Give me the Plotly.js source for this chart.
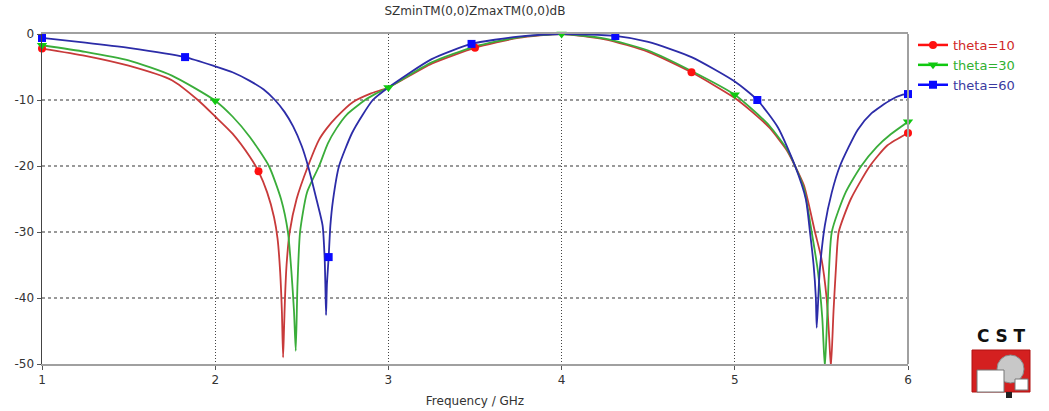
<!DOCTYPE html>
<html>
<head>
<meta charset="utf-8">
<script src="https://cdn.plot.ly/plotly-3.0.1.min.js"></script>
<style>html,body{margin:0;padding:0;background:#fff;}#chart{width:1049px;height:411px;}</style>
</head>
<body>
<div id="chart"></div>
<script>
// ---- data ----
const seriesNames = ["theta=10", "theta=30", "theta=60"];

const redX = [1.0,1.25,1.5,1.75,1.9,2.0,2.1,2.2,2.25,2.3,2.34,2.36,2.375,2.385,2.392,2.397,2.403,2.412,2.43,2.47,2.536,2.6,2.644,2.7,2.796,2.9,3.0,3.25,3.5,3.75,4.0,4.25,4.5,4.75,5.0,5.1,5.2,5.3,5.348,5.4,5.463,5.5,5.53,5.545,5.555,5.57,5.585,5.6,5.67,5.78,5.88,6.0];
const redY = [-2.2,-3.3,-4.8,-7.0,-10.0,-12.5,-15.1,-18.6,-20.8,-24.0,-27.8,-31,-36,-42,-49,-45,-40,-35,-30,-25,-20,-16,-14.3,-12.6,-10.3,-9.0,-8.1,-4.5,-2.1,-0.6,0,-0.8,-2.7,-5.8,-9.7,-11.8,-14.2,-17.6,-20,-23,-30,-34,-40,-46,-50.5,-42,-35,-30,-25,-20,-16.9,-15.0];

const greenX = [1.0,1.25,1.5,1.75,2.0,2.1,2.2,2.31,2.38,2.42,2.44,2.455,2.465,2.475,2.49,2.53,2.6,2.65,2.7,2.76,2.865,2.93,3.0,3.25,3.5,3.75,4.0,4.25,4.5,4.75,5.0,5.1,5.2,5.3,5.348,5.4,5.444,5.48,5.505,5.52,5.535,5.56,5.64,5.73,5.82,5.9,6.0];
const greenY = [-1.7,-2.7,-4.0,-6.3,-10.1,-12.5,-15.6,-20,-25,-30,-36,-42,-48,-38,-30,-24,-20,-16.6,-14.3,-12.2,-10.0,-9.0,-8.1,-4.3,-1.9,-0.5,0,-0.7,-2.5,-5.6,-9.2,-11.4,-13.9,-17.4,-20,-23.5,-30,-36,-43,-50.5,-42,-30,-24,-20,-17.1,-15.2,-13.3];

const blueX = [1.0,1.25,1.5,1.826,2.0,2.1,2.2,2.28,2.345,2.4,2.45,2.5,2.536,2.586,2.62,2.632,2.636,2.64,2.645,2.655,2.665,2.68,2.715,2.79,2.85,2.91,3.0,3.25,3.48,3.75,4.0,4.31,4.5,4.75,5.0,5.13,5.25,5.348,5.41,5.434,5.455,5.468,5.473,5.49,5.52,5.56,5.607,5.71,5.79,5.9,5.97,6.0];
const blueY = [-0.6,-1.3,-2.1,-3.5,-4.9,-5.8,-7.1,-8.4,-10,-11.8,-14,-17,-20,-25.2,-29,-34,-38,-42.6,-38,-33.8,-29,-25.2,-20,-15,-12.3,-10,-8.1,-3.8,-1.5,-0.4,0,-0.3,-1.2,-3.5,-7.2,-10,-14.2,-20,-25,-30,-35,-40,-44.5,-36,-29,-24,-20,-14.5,-12,-10,-9.2,-9.1];

const redMarkX = [1.0, 2.25, 3.5, 4.75, 6.0];
const redMarkY = [-2.2, -20.8, -2.1, -5.8, -15.0];
const greenMarkX = [1.0, 2.0, 3.0, 4.0, 5.0, 6.0];
const greenMarkY = [-1.7, -10.1, -8.1, 0, -9.2, -13.3];
const blueMarkX = [1.0, 1.826, 2.655, 3.48, 4.31, 5.13, 6.0];
const blueMarkY = [-0.6, -3.5, -33.8, -1.5, -0.3, -10, -9.1];

const xTickVals = [1, 2, 3, 4, 5, 6];
const xTickText = ["1", "2", "3", "4", "5", "6"];
const yTickVals = [0, -10, -20, -30, -40, -50];
const yTickText = ["0", "-10", "-20", "-30", "-40", "-50"];

const chartTitle = "SZminTM(0,0)ZmaxTM(0,0)dB";
const xTitle = "Frequency / GHz";

// ---- styles ----
const lineColors = ["#c83a3a", "#3aad3a", "#2c2ca8"];
const markColors = ["#ff1010", "#10c810", "#0a0aff"];
const textColors = ["#d02828", "#30b030", "#3a3aa0"];
const symbols = ["circle", "triangle-down", "square"];
const markSizes = [8, 9, 8];

function gapped(a) { const out = []; a.forEach((v, i) => { if (i) out.push(null); out.push(v); }); return out; }

const curves = [[redX, redY, redMarkX, redMarkY], [greenX, greenY, greenMarkX, greenMarkY], [blueX, blueY, blueMarkX, blueMarkY]];
const traces = [];
curves.forEach((c, i) => {
  traces.push({
    x: c[0], y: c[1], type: "scatter", mode: "lines",
    line: {color: lineColors[i], width: 1.8, shape: "spline", smoothing: 0.6},
    legendgroup: "g" + i, showlegend: false, hoverinfo: "skip"
  });
});
curves.forEach((c, i) => {
  traces.push({
    x: gapped(c[2]), y: gapped(c[3]), type: "scatter", mode: "lines+markers",
    connectgaps: false, cliponaxis: false,
    name: "<span style='color:" + textColors[i] + "'>" + seriesNames[i] + "</span>",
    line: {color: markColors[i], width: 2.5},
    marker: {color: markColors[i], symbol: symbols[i], size: markSizes[i], line: {width: 0}},
    legendgroup: "g" + i, showlegend: true
  });
});

const W = 1049, H = 411, L = 42, R = 908, T = 34, B = 364;
const px = v => (v - L) / (R - L);
const py = v => 1 - (v - T) / (B - T);

const layout = {
  width: W, height: H,
  margin: {l: L, r: W - R, t: T, b: H - B, pad: 0},
  paper_bgcolor: "#ffffff", plot_bgcolor: "#ffffff",
  font: {family: "DejaVu Sans, Verdana, sans-serif", size: 12, color: "#333"},
  title: {text: chartTitle, x: 0.4528, xanchor: "center", y: 0.985, yanchor: "top", font: {size: 12, color: "#333"}},
  showlegend: true,
  legend: {x: px(913), xanchor: "left", y: py(30), yanchor: "top", bgcolor: "rgba(0,0,0,0)",
           font: {size: 13, color: "#444"}, itemwidth: 30, tracegroupgap: 0, traceorder: "normal"},
  xaxis: {
    range: [1, 6], tickvals: xTickVals, ticktext: xTickText,
    showgrid: true, gridcolor: "#444", griddash: "1px,2px", gridwidth: 1,
    showline: true, linecolor: "#a0a0a0", linewidth: 2, mirror: true,
    ticks: "outside", ticklen: 4, tickcolor: "#555", tickfont: {size: 12, color: "#333"},
    zeroline: false,
    title: {text: xTitle, font: {size: 12, color: "#333"}, standoff: 10}
  },
  yaxis: {
    range: [-50, 0], tickvals: yTickVals, ticktext: yTickText,
    showgrid: true, gridcolor: "#999", griddash: "3px,3px", gridwidth: 1.2,
    showline: true, linecolor: "#444", linewidth: 1.5,
    ticks: "outside", ticklen: 4, tickcolor: "#555", tickfont: {size: 12, color: "#333"},
    zeroline: false
  },
  shapes: [
    {type: "line", xref: "paper", yref: "paper", x0: 1, x1: 1, y0: 0, y1: 1, line: {color: "#a0a0a0", width: 2}},
    // CST logo
    {type: "rect", xref: "paper", yref: "paper", x0: px(972), x1: px(1030), y0: py(392), y1: py(350), fillcolor: "#d42020", line: {color: "#b01010", width: 1}},
    {type: "circle", xref: "paper", yref: "paper", x0: px(997), x1: px(1024), y0: py(383), y1: py(355), fillcolor: "#c8c8c8", line: {color: "#888", width: 1}},
    {type: "rect", xref: "paper", yref: "paper", x0: px(977), x1: px(1004), y0: py(392), y1: py(370), fillcolor: "#ffffff", line: {color: "#777", width: 1}},
    {type: "rect", xref: "paper", yref: "paper", x0: px(1015), x1: px(1028), y0: py(390), y1: py(379), fillcolor: "#ffffff", line: {color: "#777", width: 1}},
    {type: "rect", xref: "paper", yref: "paper", x0: px(1006), x1: px(1012), y0: py(398), y1: py(392), fillcolor: "#222", line: {width: 0}}
  ],
  annotations: [
    {text: "<b>C S T</b>", xref: "paper", yref: "paper", x: px(1001), y: py(336), xanchor: "center", yanchor: "middle",
     showarrow: false, font: {family: "DejaVu Sans, sans-serif", size: 17, color: "#111"}}
  ]
};

Plotly.newPlot("chart", traces, layout, {displayModeBar: false, staticPlot: true});
</script>
</body>
</html>
